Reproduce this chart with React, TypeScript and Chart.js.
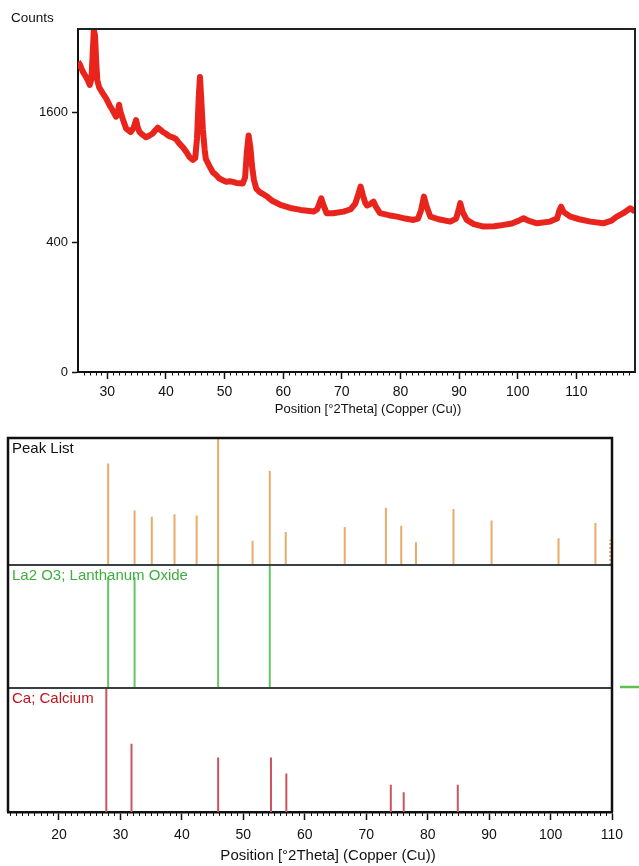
import React, { useEffect, useRef } from "react";
import { Chart, registerables } from "chart.js";

Chart.register(...registerables);

const FONT = "'Liberation Sans', Arial, sans-serif";

// ---- Top panel: diffractogram (°2Theta vs counts, square-root intensity axis) ----
const scanAngles = [
  25.0, 25.3, 25.8, 26.3, 26.7, 27.0, 27.3, 27.5, 27.7, 27.9, 28.1, 28.3, 28.6, 29.2, 29.8,
  30.4, 30.9, 31.5, 31.8, 32.0, 32.2, 32.6, 33.2, 34.0, 34.5, 34.9, 35.2, 35.5, 36.0, 36.6,
  37.2, 37.7, 38.2, 38.6, 39.0, 39.5, 40.0, 40.6, 41.2, 41.7, 42.3, 42.9, 43.5, 44.0, 44.6,
  45.0, 45.3, 45.6, 45.8, 46.0, 46.3, 46.6, 46.8, 47.4, 48.0, 48.6, 49.1, 49.7, 50.3, 50.9,
  51.4, 52.0, 52.6, 53.1, 53.5, 53.8, 54.1, 54.4, 54.7, 55.0, 55.4, 56.0, 56.5, 57.3, 58.2,
  59.5, 61.2, 63.0, 65.2, 65.8, 66.2, 66.5, 66.8, 67.4, 68.5, 70.3, 71.5, 72.3, 72.8, 73.2,
  73.6, 74.0, 74.3, 74.8, 75.4, 75.8, 76.5, 78.0, 79.4, 80.8, 82.2, 83.0, 83.5, 84.0, 84.4,
  85.1, 86.5, 88.5, 89.5, 90.0, 90.2, 90.6, 91.3, 92.5, 94.2, 96.0, 97.6, 99.0, 100.2, 101.0,
  101.8, 103.3, 105.5, 106.7, 107.1, 107.4, 107.8, 109.0, 110.5, 112.4, 114.6, 116.0, 116.9, 118.0, 119.2,
  120.0,
];
const scanCounts = [
  2290, 2250, 2150, 2080, 2020, 1960, 2050, 2400, 2780, 2700, 2300, 2020, 1930, 1850, 1780,
  1690, 1630, 1550, 1600, 1700, 1620, 1530, 1410, 1370, 1420, 1510, 1420, 1370, 1340, 1310,
  1330, 1350, 1390, 1420, 1400, 1370, 1350, 1320, 1310, 1290, 1240, 1200, 1150, 1100, 1070,
  1090, 1300, 1800, 2070, 1800, 1400, 1180, 1080, 1010, 950, 920, 890, 875, 860, 865,
  860, 850, 848, 845, 900, 1150, 1330, 1200, 1000, 880, 800, 770, 755, 730, 695,
  665, 640, 625, 612, 630, 680, 718, 670, 600, 600, 612, 630, 675, 750, 818,
  740, 680, 660, 670, 691, 650, 600, 585, 574, 560, 550, 560, 620, 732, 660,
  574, 555, 538, 560, 640, 678, 610, 550, 520, 503, 505, 515, 525, 545, 562,
  545, 526, 538, 560, 620, 650, 610, 574, 555, 538, 526, 545, 574, 600, 638,
  612,
];
const countTicks = [0, 400, 1600];
const topAngleTicks = [30, 40, 50, 60, 70, 80, 90, 100, 110];

// ---- Bottom panels: stick patterns (relative intensity, %) ----
const peakListPos = [28.0, 32.3, 35.1, 38.8, 42.4, 45.9, 51.5, 54.3, 56.9, 66.5, 73.2, 75.7, 78.1, 84.2, 90.4, 101.3, 107.3];
const peakListRel = [80, 43, 38, 40, 39, 100, 19, 74, 26, 30, 45, 31, 18, 44, 35, 21, 33];
const peakListDottedPos = [109.7];
const peakListDottedRel = [20];
const la2o3Pos = [28.0, 32.3, 45.9, 54.3];
const la2o3Rel = [90, 90, 100, 100];
const caPos = [27.7, 31.8, 45.9, 54.5, 57.0, 74.0, 76.1, 84.9];
const caRel = [100, 55, 44, 44, 31, 22, 16, 22];
const bottomAngleTicks = [20, 30, 40, 50, 60, 70, 80, 90, 100, 110];

const panelNames = ["Peak List", "La2 O3; Lanthanum Oxide", "Ca; Calcium"];
const panelTextColors = ["#111111", "#3fae3f", "#c0141c"];
const axisTitle = "Position [°2Theta] (Copper (Cu))";

const sticks = (pos: number[], rel: number[]) =>
  pos.flatMap((x, i) => [
    { x, y: 0 },
    { x, y: rel[i] },
    { x, y: null as any },
  ]);

const drawMinorTicks = (chart: any, from: number, to: number, len: number) => {
  const ctx = chart.ctx;
  const xs = chart.scales.x;
  const y0 = chart.chartArea.bottom;
  ctx.save();
  ctx.strokeStyle = "#111";
  ctx.lineWidth = 1;
  ctx.beginPath();
  for (let v = from; v <= to; v++) {
    if (v % 10 === 0) continue;
    const px = Math.round(xs.getPixelForValue(v)) + 0.5;
    ctx.moveTo(px, y0);
    ctx.lineTo(px, y0 + len);
  }
  ctx.stroke();
  ctx.restore();
};

const topPlugin = {
  id: "topDecor",
  afterDraw(chart: any) {
    const { ctx, chartArea: a } = chart;
    ctx.save();
    ctx.strokeStyle = "#1d2226";
    ctx.lineWidth = 2;
    ctx.beginPath();
    ctx.moveTo(a.left, a.top);
    ctx.lineTo(a.right, a.top);
    ctx.lineTo(a.right, a.bottom);
    ctx.stroke();
    ctx.fillStyle = "#111";
    ctx.textBaseline = "middle";
    ctx.textAlign = "left";
    ctx.font = `13.5px ${FONT}`;
    ctx.fillText("Counts", 11, 18);
    ctx.textAlign = "center";
    ctx.font = `13px ${FONT}`;
    ctx.fillText(axisTitle, 368, 409);
    ctx.restore();
    drawMinorTicks(chart, 26, 119, 3.5);
  },
};

const bottomPlugin = {
  id: "bottomDecor",
  afterDraw(chart: any) {
    const { ctx, chartArea: a, scales } = chart;
    const tops = [scales.yPeak.top, scales.yLa.top, scales.yCa.top];
    ctx.save();
    // panel separators
    ctx.strokeStyle = "#3a3f44";
    ctx.lineWidth = 2;
    ctx.beginPath();
    ctx.moveTo(a.left, tops[1]);
    ctx.lineTo(a.right, tops[1]);
    ctx.moveTo(a.left, tops[2]);
    ctx.lineTo(a.right, tops[2]);
    ctx.stroke();
    // outer frame
    ctx.strokeStyle = "#111";
    ctx.lineWidth = 2.5;
    ctx.beginPath();
    ctx.moveTo(a.left, a.bottom);
    ctx.lineTo(a.left, a.top);
    ctx.lineTo(a.right, a.top);
    ctx.lineTo(a.right, a.bottom);
    ctx.stroke();
    // small green marker outside at right
    ctx.strokeStyle = "#5cc04c";
    ctx.lineWidth = 2.5;
    ctx.beginPath();
    ctx.moveTo(620, tops[2] - 1);
    ctx.lineTo(639, tops[2] - 1);
    ctx.stroke();
    // panel labels
    ctx.font = `15px ${FONT}`;
    ctx.textAlign = "left";
    ctx.textBaseline = "alphabetic";
    panelNames.forEach((name, i) => {
      ctx.fillStyle = panelTextColors[i];
      ctx.fillText(name, 12, tops[i] + 15);
    });
    // axis title
    ctx.fillStyle = "#111";
    ctx.textAlign = "center";
    ctx.textBaseline = "middle";
    ctx.fillText(axisTitle, 328, 436);
    ctx.restore();
    drawMinorTicks(chart, 12, 110, 4);
  },
};

export default function App() {
  const topRef = useRef<HTMLCanvasElement>(null);
  const botRef = useRef<HTMLCanvasElement>(null);

  useEffect(() => {
    const tickFont = { family: FONT, size: 14 };

    const top = new Chart(topRef.current as HTMLCanvasElement, {
      type: "line",
      data: {
        datasets: [
          {
            data: scanAngles.map((a, i) => ({ x: a, y: Math.sqrt(scanCounts[i]) })),
            borderColor: "#e8241c",
            borderWidth: 6,
            pointRadius: 0,
            tension: 0,
            borderJoinStyle: "round",
          },
        ],
      },
      options: {
        animation: false,
        responsive: false,
        maintainAspectRatio: false,
        layout: { padding: { left: 0, right: 4, top: 29, bottom: 0 } },
        plugins: { legend: { display: false }, tooltip: { enabled: false } },
        scales: {
          x: {
            type: "linear",
            min: 25,
            max: 120,
            afterBuildTicks: (s: any) => {
              s.ticks = topAngleTicks.map((v) => ({ value: v }));
            },
            grid: { drawOnChartArea: false, drawTicks: true, tickLength: 7, tickColor: "#111", tickWidth: 1.5 },
            border: { color: "#111", width: 2 },
            ticks: { font: tickFont, color: "#111", padding: 5, maxRotation: 0, autoSkip: false, callback: (v: any) => String(v) },
            afterFit: (s: any) => {
              s.height = 48;
            },
          },
          y: {
            type: "linear",
            min: 0,
            max: 52.9,
            afterBuildTicks: (s: any) => {
              s.ticks = countTicks.map((c) => ({ value: Math.sqrt(c) }));
            },
            grid: { drawOnChartArea: false, drawTicks: true, tickLength: 6, tickColor: "#111", tickWidth: 1.5 },
            border: { color: "#111", width: 2 },
            ticks: {
              font: { family: FONT, size: 13 },
              color: "#111",
              padding: 4,
              autoSkip: false,
              callback: (v: any) => String(Math.round(v * v)),
            },
            afterFit: (s: any) => {
              s.width = 78;
            },
          },
        },
      } as any,
      plugins: [topPlugin],
    });

    const hiddenY = (weight: number, stackWeight: number) => ({
      type: "linear",
      min: 0,
      max: 100,
      position: "left",
      stack: "panels",
      stackWeight,
      weight,
      display: false,
      afterFit: (s: any) => {
        s.width = 0;
      },
    });

    const stickDs = (pos: number[], rel: number[], color: string, axis: string, dash?: number[]) => ({
      data: sticks(pos, rel),
      borderColor: color,
      borderWidth: 2,
      borderDash: dash || [],
      borderCapStyle: "butt",
      pointRadius: 0,
      spanGaps: false,
      yAxisID: axis,
    });

    const bottom = new Chart(botRef.current as HTMLCanvasElement, {
      type: "line",
      data: {
        datasets: [
          stickDs(peakListPos, peakListRel, "#e8ac68", "yPeak"),
          stickDs(peakListDottedPos, peakListDottedRel, "#e8ac68", "yPeak", [2, 2]),
          stickDs(la2o3Pos, la2o3Rel, "#66c466", "yLa"),
          stickDs(caPos, caRel, "#cc5460", "yCa"),
        ] as any,
      },
      options: {
        animation: false,
        responsive: false,
        maintainAspectRatio: false,
        layout: { padding: { left: 8, right: 27, top: 18, bottom: 0 } },
        plugins: { legend: { display: false }, tooltip: { enabled: false } },
        scales: {
          x: {
            type: "linear",
            min: 11.7,
            max: 110,
            afterBuildTicks: (s: any) => {
              s.ticks = bottomAngleTicks.map((v) => ({ value: v }));
            },
            grid: { drawOnChartArea: false, drawTicks: true, tickLength: 8, tickColor: "#111", tickWidth: 1.5 },
            border: { color: "#111", width: 2.5 },
            ticks: { font: tickFont, color: "#111", padding: 7, maxRotation: 0, autoSkip: false, callback: (v: any) => String(v) },
            afterFit: (s: any) => {
              s.height = 54;
            },
          },
          yPeak: hiddenY(3, 127),
          yLa: hiddenY(2, 123),
          yCa: hiddenY(1, 124),
        },
      } as any,
      plugins: [bottomPlugin],
    });

    return () => {
      top.destroy();
      bottom.destroy();
    };
  }, []);

  return (
    <div style={{ position: "absolute", left: 0, top: 0, width: 639, height: 866, background: "#fff" }}>
      <canvas ref={topRef} width={639} height={420} style={{ position: "absolute", left: 0, top: 0 }} />
      <canvas ref={botRef} width={639} height={446} style={{ position: "absolute", left: 0, top: 420 }} />
    </div>
  );
}
